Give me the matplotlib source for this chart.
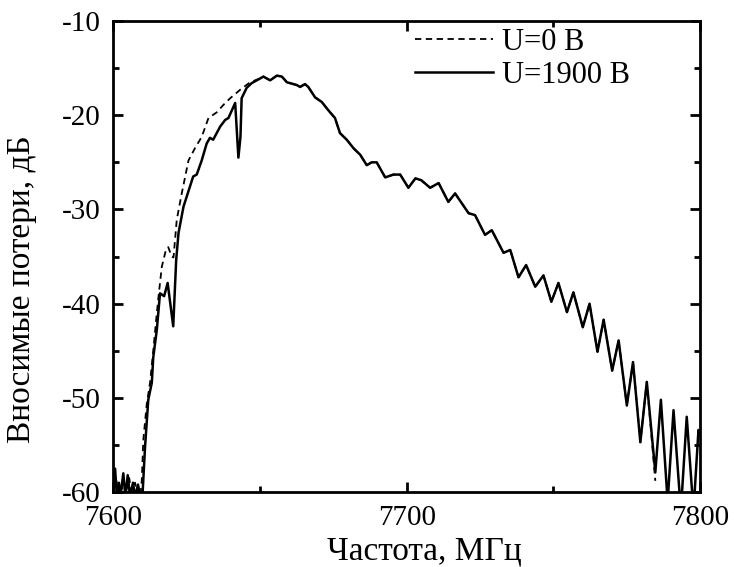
import numpy as np
import matplotlib
matplotlib.use('Agg')
import matplotlib.pyplot as plt
from matplotlib.ticker import MultipleLocator

plt.rcParams['font.family'] = ['Liberation Serif', 'DejaVu Serif']
plt.rcParams['axes.unicode_minus'] = False

# Rising edge, U = 0 B (dashed)
freq_rise_0 = [7600.0, 7601.0, 7602.0, 7603.0, 7604.0, 7605.5, 7606.5, 7607.5, 7608.5, 7609.3,
               7609.8, 7610.3, 7611.5, 7612.6, 7613.7, 7614.6, 7615.4, 7616.6, 7618.0, 7618.8,
               7620.0, 7620.6, 7621.7, 7623.4, 7625.7, 7627.9, 7630.2, 7632.5, 7635.3, 7637.6,
               7639.9, 7643.3, 7646.7]
loss_rise_0 = [-60.5, -58.5, -60.5, -59.5, -60.5, -58.5, -60.5, -59.0, -60.5, -60.5,
               -58.7, -54.5, -50.6, -48.4, -45.0, -42.0, -39.5, -36.1, -34.3, -34.0,
               -35.0, -35.1, -31.1, -28.3, -24.8, -23.5, -22.3, -20.3, -19.7, -18.9,
               -18.2, -17.3, -16.5]

# Rising edge, U = 1900 B (solid)
freq_rise_1900 = [7600.0, 7600.7, 7601.3, 7602.0, 7602.5, 7603.5, 7604.2, 7605.0, 7605.8, 7606.8,
                  7607.5, 7608.5, 7609.3, 7610.0, 7610.9, 7612.0, 7613.2, 7613.7, 7614.9, 7616.0,
                  7617.4, 7618.6, 7620.5, 7621.5, 7622.3, 7624.0, 7627.3, 7628.5, 7630.2, 7631.9,
                  7633.0, 7634.1, 7636.5, 7638.2, 7639.3, 7641.6, 7642.7, 7643.4, 7643.8, 7645.5,
                  7647.2]
loss_rise_1900 = [-60.5, -57.5, -60.5, -59.0, -60.5, -58.0, -60.5, -58.2, -60.5, -59.0,
                  -60.5, -59.2, -60.5, -60.5, -55.2, -50.2, -48.4, -45.7, -42.8, -38.9,
                  -39.2, -37.8, -42.4, -35.4, -32.5, -29.7, -26.5, -26.3, -24.8, -23.0,
                  -22.4, -22.6, -21.2, -20.5, -20.3, -18.7, -24.5, -22.3, -18.2, -17.1,
                  -16.6]

# Common part of both curves (peak and falling edge)
freq_tail = [7650.1, 7651.2, 7653.5, 7655.8, 7657.5, 7659.2, 7662.6, 7663.7, 7665.4, 7666.5,
             7668.8, 7671.1, 7673.4, 7675.6, 7677.3, 7679.6, 7681.9, 7684.2, 7686.4, 7688.1,
             7689.8, 7692.7, 7695.5, 7697.8, 7700.6, 7703.0, 7705.0, 7708.0, 7710.9, 7714.2,
             7716.5, 7721.1, 7723.3, 7726.7, 7729.0, 7733.0, 7735.3, 7738.1, 7740.7, 7743.8,
             7746.6, 7749.3, 7751.7, 7754.6, 7756.8, 7760.0, 7762.3, 7765.0, 7767.1, 7770.0,
             7772.2, 7775.0, 7777.1, 7779.6, 7781.8, 7784.7, 7786.6, 7788.9, 7790.9, 7793.4,
             7795.4, 7797.7, 7799.4, 7800.0]
loss_tail = [-16.1, -15.9, -16.3, -15.8, -15.9, -16.5, -16.8, -17.0, -16.7, -17.0,
             -18.1, -18.6, -19.5, -20.3, -21.9, -22.6, -23.5, -24.2, -25.3, -25.0,
             -25.0, -26.6, -26.3, -26.3, -27.7, -26.7, -26.9, -27.7, -27.2, -29.2,
             -28.3, -30.4, -30.6, -32.7, -32.2, -34.6, -34.3, -37.2, -35.9, -38.2,
             -37.0, -39.8, -37.8, -40.9, -38.8, -42.5, -40.0, -45.1, -41.7, -47.1,
             -43.9, -50.8, -46.2, -54.7, -48.3, -57.9, -50.2, -61.0, -51.3, -62.0,
             -52.0, -62.0, -53.4, -54.0]

# U = 0 B trace ends a bit earlier
freq_tail_0_end = 7785.5
loss_dip_0 = -58.8

f0 = [f for f in freq_tail if f <= freq_tail_0_end]
l0 = loss_tail[:len(f0)]
l0[-1] = loss_dip_0
x0 = np.array(freq_rise_0 + f0)
y0 = np.array(loss_rise_0 + l0)
x1 = np.array(freq_rise_1900 + freq_tail)
y1 = np.array(loss_rise_1900 + loss_tail)

fig = plt.figure(figsize=(7.34, 5.67), dpi=100)
ax = fig.add_axes([0.154, 0.132, 0.8, 0.831])

ax.plot(x0, y0, color='black', lw=1.3, linestyle=(0, (3.5, 2.5)), label='U=0 В')
ax.plot(x1, y1, color='black', lw=1.8, label='U=1900 В')

ax.set_xlim(7600, 7800)
ax.set_ylim(-60, -10)
ax.xaxis.set_major_locator(MultipleLocator(100))
ax.xaxis.set_minor_locator(MultipleLocator(50))
ax.yaxis.set_major_locator(MultipleLocator(10))
ax.yaxis.set_minor_locator(MultipleLocator(5))
ax.tick_params(which='both', direction='in', top=True, right=True, width=2, labelsize=21)
ax.tick_params(which='major', length=7.5)
ax.tick_params(which='minor', length=4)
ax.tick_params(axis='x', pad=9)
ax.tick_params(axis='y', pad=9)
for s in ax.spines.values():
    s.set_linewidth(2)

ax.set_xlabel('Частота, МГц', fontsize=24)
ax.set_ylabel('Вносимые потери, дБ', fontsize=24)
ax.xaxis.set_label_coords(0.53, -0.094)
ax.yaxis.set_label_coords(-0.13, 0.43)

ax.legend(loc='upper left', bbox_to_anchor=(0.514, 0.985), frameon=False, fontsize=22,
          handlelength=2.55, handletextpad=0.3, labelspacing=0.12, borderpad=0, borderaxespad=0)

fig.savefig('out.png', dpi=100)
